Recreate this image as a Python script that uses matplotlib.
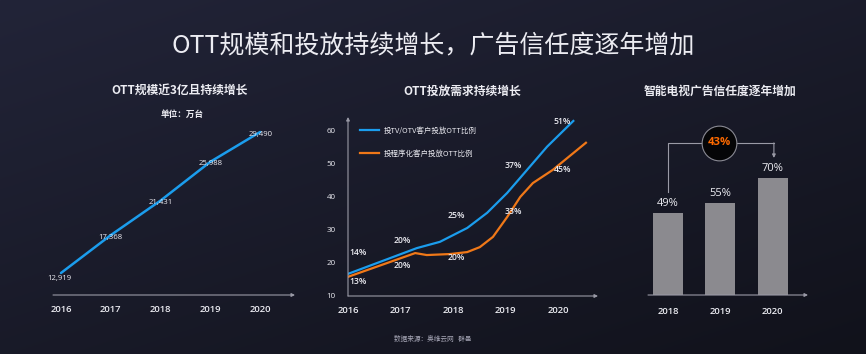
import numpy as np
import matplotlib.pyplot as plt

plt.rcParams['font.family'] = ['Noto Sans CJK SC', 'DejaVu Sans']

# ---- data ----
years = [2016, 2017, 2018, 2019, 2020]
ott_scale = [12919, 17368, 21431, 25988, 29490]
ott_labels = ['12,919', '17,368', '21,431', '25,988', '29,490']

# curve points (x in years)
tv_x = [2016.0, 2017.31, 2017.75, 2018.27, 2018.65, 2019.03, 2019.41, 2019.79, 2020.29]
tv_y = [16.7, 24.5, 26.4, 30.6, 35.2, 41.2, 48.2, 55.2, 63.0]
prog_x = [2016.0, 2017.28, 2017.5, 2017.94, 2018.27, 2018.51, 2018.76, 2019.03,
          2019.28, 2019.52, 2019.9, 2020.53]
prog_y = [15.8, 23.0, 22.4, 22.7, 23.3, 24.8, 27.9, 33.9, 40.0, 44.2, 48.2, 56.4]
tv_pct = ['14%', '20%', '25%', '37%', '51%']
prog_pct = ['13%', '20%', '20%', '33%', '45%']
tv_name = '投TV/OTV客户投放OTT比例'
prog_name = '投程序化客户投放OTT比例'

trust_years = ['2018', '2019', '2020']
trust = [49, 55, 70]
growth = '43%'

W, H = 866, 354
WHITE = '#ececf2'
BLUE = '#1b9ded'
ORANGE = '#f07818'
NUM = ['Open Sans', 'DejaVu Sans']


def rect(l, t, r, b):
    return [l / W, 1 - b / H, (r - l) / W, (b - t) / H]


fig = plt.figure(figsize=(W / 100, H / 100), dpi=100)

# background gradient
bg = fig.add_axes([0, 0, 1, 1])
yy, xx = np.mgrid[0:1:200j, 0:1:400j]
t = np.clip(0.55 * yy + 0.45 * xx, 0, 1)
c0 = np.array([0x22, 0x24, 0x38]) / 255
c1 = np.array([0x11, 0x12, 0x1b]) / 255
img = c0[None, None, :] * (1 - t[..., None]) + c1[None, None, :] * t[..., None]
bg.imshow(img, aspect='auto', extent=[0, 1, 0, 1])
bg.axis('off')

fig.text(433 / W, 1 - 45 / H, 'OTT规模和投放持续增长，广告信任度逐年增加',
         color=WHITE, fontsize=18, ha='center', va='center')
fig.text(433 / W, 1 - 339 / H, '数据来源：奥维云网   群邑', color='#a8a8b8',
         fontsize=4.8, ha='center', va='center')


def arrow_line(ax, start, end):
    ax.annotate('', xy=end, xytext=start, xycoords='axes fraction',
                arrowprops=dict(arrowstyle='-|>', color='#9a9aa6', lw=0.8,
                                mutation_scale=5, shrinkA=0, shrinkB=0))


def year_ticks(ax, pos, labels, pad):
    ax.set_xticks(pos)
    ax.set_xticklabels(labels, color=WHITE, fontsize=6.8, fontweight='semibold',
                       family=NUM)
    ax.tick_params(axis='x', length=0, pad=pad)


# ---- panel 1 ----
ax1 = fig.add_axes(rect(53, 120, 295, 295))
ax1.plot(years, ott_scale, color=BLUE, lw=1.8, solid_capstyle='round')
ax1.set_xlim(2015.84, 2020.70)
ax1.set_ylim(10334, 30898)
for x, y, s in zip(years, ott_scale, ott_labels):
    dy = -700 if x == 2016 else -250
    dx = -0.04 if x == 2016 else 0
    ax1.text(x + dx, y + dy, s, color=WHITE, fontsize=5.6, ha='center',
             va='center', family=NUM)
year_ticks(ax1, years, [str(y) for y in years], 7.5)
ax1.set_yticks([])
for s in ax1.spines.values():
    s.set_visible(False)
ax1.patch.set_alpha(0)
arrow_line(ax1, (0, 0), (1, 0))
fig.text(180 / W, 1 - 90 / H, 'OTT规模近3亿且持续增长', color=WHITE, fontsize=8.5,
         fontweight='bold', ha='center', va='center')
fig.text(182 / W, 1 - 114 / H, '单位：万台', color=WHITE, fontsize=6.2,
         fontweight='bold', ha='center', va='center')

# ---- panel 2 ----
ax2 = fig.add_axes(rect(348, 117, 598, 296))
ax2.plot(tv_x, tv_y, color=BLUE, lw=1.6, label=tv_name)
ax2.plot(prog_x, prog_y, color=ORANGE, lw=1.6, label=prog_name)
ax2.set_xlim(2016, 2020.76)
ax2.set_ylim(10, 64.2)
year_ticks(ax2, years, [str(y) for y in years], 7.5)
ax2.set_yticks([10, 20, 30, 40, 50, 60])
ax2.set_yticklabels(['10', '20', '30', '40', '50', '60'], color=WHITE, fontsize=5.8,
                    family=NUM)
ax2.tick_params(axis='y', length=0, pad=9)
for s in ax2.spines.values():
    s.set_visible(False)
ax2.patch.set_alpha(0)
arrow_line(ax2, (0, 0), (1, 0))
arrow_line(ax2, (0, 0), (0, 1))
tv_pos = [(2016.2, 23.3), (2017.03, 26.7), (2018.06, 34.5), (2019.14, 49.4), (2020.08, 62.7)]
prog_pos = [(2016.2, 14.5), (2017.03, 19.1), (2018.06, 21.8), (2019.14, 35.5), (2020.08, 48.2)]
for (x, y), s in zip(tv_pos, tv_pct):
    ax2.text(x, y, s, color=WHITE, fontsize=6.2, ha='center', va='center',
             family=NUM, fontweight='semibold')
for (x, y), s in zip(prog_pos, prog_pct):
    ax2.text(x, y, s, color=WHITE, fontsize=6.2, ha='center', va='center',
             family=NUM, fontweight='semibold')
leg = ax2.legend(loc='upper left', bbox_to_anchor=(0.02, 0.985), frameon=False,
                 fontsize=5.4, labelcolor=WHITE, handlelength=2.6, handletextpad=0.6,
                 labelspacing=2.0)
fig.text(462 / W, 1 - 91 / H, 'OTT投放需求持续增长', color=WHITE, fontsize=8.5,
         fontweight='bold', ha='center', va='center')

# ---- panel 3 ----
ax3 = fig.add_axes(rect(648, 120, 808, 295))
xs = np.arange(len(trust))
ax3.bar(xs, trust, width=0.57, color='#8b8a8f', zorder=2)
ax3.set_xlim(-0.38, 2.67)
ax3.set_ylim(0, 104.7)
for x, v in zip(xs, trust):
    ax3.text(x, v + 5.6, f'{v}%', color=WHITE, fontsize=8, ha='center', va='center',
             family=NUM)
year_ticks(ax3, xs, trust_years, 8.5)
ax3.set_yticks([])
for s in ax3.spines.values():
    s.set_visible(False)
ax3.patch.set_alpha(0)
arrow_line(ax3, (0, 0), (1, 0))
# bracket with circle
ax3.plot([0, 0, 0.68], [61.5, 91, 91], color='#9a9aa6', lw=0.8, clip_on=False)
ax3.plot([1.32, 2.02], [91, 91], color='#9a9aa6', lw=0.8, clip_on=False)
ax3.annotate('', xy=(2.02, 82), xytext=(2.02, 91),
             arrowprops=dict(arrowstyle='-|>', color='#9a9aa6', lw=0.8,
                             mutation_scale=5, shrinkA=0, shrinkB=0),
             annotation_clip=False)
ax3.plot([0.98], [91], marker='o', markersize=25, markerfacecolor='#050507',
         markeredgecolor='#8a8a94', markeredgewidth=0.8, clip_on=False, zorder=4)
ax3.text(0.98, 91, growth, color='#ff6a00', fontsize=8.2, fontweight='bold',
         ha='center', va='center', zorder=5, family=NUM)
fig.text(720 / W, 1 - 91 / H, '智能电视广告信任度逐年增加', color=WHITE, fontsize=8.5,
         fontweight='bold', ha='center', va='center')

fig.savefig('out.png', dpi=100, facecolor=fig.get_facecolor())
